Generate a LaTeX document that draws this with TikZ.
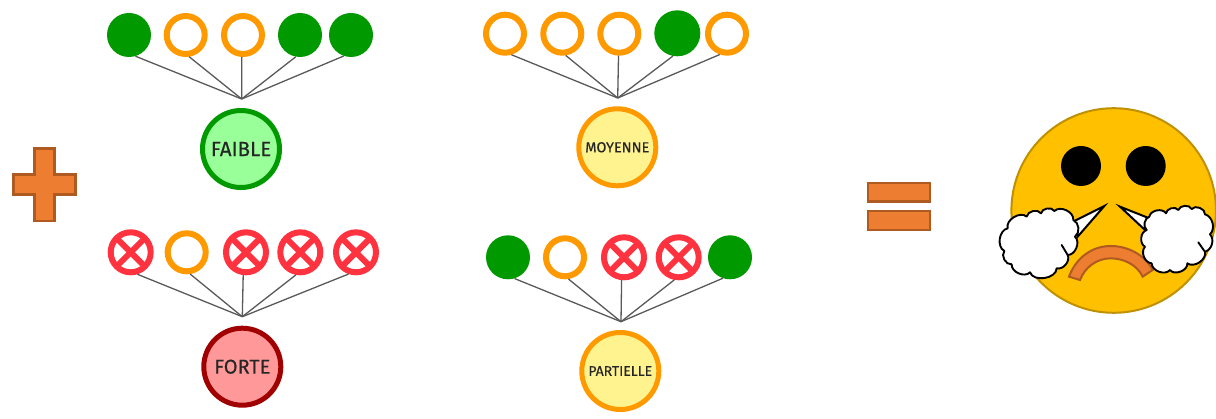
\documentclass[tikz,border=0pt]{standalone}
\usepackage{fontspec}
\setmainfont{Fira Sans}
\newfontfamily\labfont[FakeBold=0.35]{Fira Sans}
\definecolor{okgreen}{HTML}{009900}
\definecolor{midorange}{HTML}{FF9900}
\definecolor{badred}{HTML}{FF3340}
\definecolor{darkred}{HTML}{A00000}
\definecolor{lgreen}{HTML}{99FF99}
\definecolor{lred}{HTML}{FF9999}
\definecolor{lyellow}{HTML}{FFF38F}
\definecolor{signfill}{HTML}{ED7D31}
\definecolor{signline}{HTML}{AE5A21}
\definecolor{facefill}{HTML}{FFC000}
\definecolor{faceline}{HTML}{BF9000}
\tikzset{
  full/.style={circle,inner sep=0pt,fill=okgreen,minimum size=44pt},
  ring/.style={circle,inner sep=0pt,draw=midorange,line width=6pt,fill=white,minimum size=38pt},
  cross/.style={circle,inner sep=0pt,draw=badred,line width=6pt,fill=white,minimum size=40pt,
    path picture={\draw[badred,line width=6pt]
      (path picture bounding box.north west)--(path picture bounding box.south east)
      (path picture bounding box.north east)--(path picture bounding box.south west);}},
  big/.style={circle,inner sep=0pt,line width=5pt,minimum size=77pt,text=black!85,font=\labfont},
  conn/.style={draw=black!65,line width=1.3pt},
  sign/.style={fill=signfill,draw=signline,line width=2.4pt},
  puff/.style={fill=white,draw=black,line width=1.9pt,line join=round,line cap=round},
}
\begin{document}
\begin{tikzpicture}[x=1pt,y=-1pt]
\useasboundingbox (0,0) rectangle (1216,419);
% FAIBLE
\node[full]  (a1) at (129,35) {};
\node[ring]  (a2) at (185.7,35) {};
\node[ring]  (a3) at (243,35) {};
\node[full]  (a4) at (300,35) {};
\node[full]  (a5) at (351,35) {};
\coordinate (ja) at (241.7,99);
\node[big,draw=okgreen,fill=lgreen] (A) at (241,149) {\fontsize{20.5}{22}\selectfont FAIBLE};
% FORTE
\node[cross] (b1) at (130.7,252.3) {};
\node[ring]  (b2) at (186.7,252.3) {};
\node[cross] (b3) at (246,252.3) {};
\node[cross] (b4) at (300.3,252.3) {};
\node[cross] (b5) at (356,252.3) {};
\coordinate (jb) at (242.3,316.7);
\node[big,draw=darkred,fill=lred] (B) at (242.3,366.7) {\fontsize{20}{22}\selectfont FORTE};
% MOYENNE
\node[ring]  (c1) at (505,33.7) {};
\node[ring]  (c2) at (562.3,33.7) {};
\node[ring]  (c3) at (619.3,33.7) {};
\node[full,minimum size=46pt] (c4) at (677.3,33.3) {};
\node[ring]  (c5) at (727,33.7) {};
\coordinate (jc) at (617.7,98);
\node[big,draw=midorange,fill=lyellow] (C) at (617.3,147.3) {\fontsize{14.5}{16}\selectfont MOYENNE};
% PARTIELLE
\node[full]  (d1) at (508,257.3) {};
\node[ring]  (d2) at (565,257.3) {};
\node[cross] (d3) at (624,257.3) {};
\node[cross] (d4) at (678.7,257.3) {};
\node[full]  (d5) at (730,257.3) {};
\coordinate (jd) at (621,321.7);
\node[big,draw=midorange,fill=lyellow] (D) at (620.3,371) {\fontsize{14}{16}\selectfont PARTIELLE};
\foreach \s/\m in {a/-93,b/-97,c/-92,d/-96}
  \foreach \i/\ang in {1/-73,2/-81,3/\m,4/-101,5/-109}
    \draw[conn] (\s\i.\ang) -- (j\s);
% plus
\draw[sign] (34.5,148.5) -- (54.5,148.5) -- (54.5,174.5) -- (75.5,174.5) -- (75.5,194.5)
  -- (54.5,194.5) -- (54.5,221) -- (34.5,221) -- (34.5,194.5) -- (13.5,194.5) -- (13.5,174.5) -- (34.5,174.5) -- cycle;
% equals
\draw[sign] (867.9,182.9) rectangle (929.8,201.5);
\draw[sign] (867.9,211.2) rectangle (929.8,230.1);
% face
\draw[fill=facefill,draw=faceline,line width=2pt] (1113.7,210.5) circle (102.3);
\fill[black] (1081,166) circle (20);
\fill[black] (1145.7,166) circle (20);
\begin{scope}[shift={(990,95)},scale=1/3]
\draw[fill=signfill,draw=signline,line width=2pt,line join=miter]
  (237,545) .. controls (256.5,491) and (304,453) .. (362,453)
  .. controls (413.5,453) and (464.4,479.3) .. (488,525) -- (458,545)
  .. controls (441.4,509.6) and (401,490) .. (362,490)
  .. controls (321,490) and (284.6,516.5) .. (270,555) -- cycle;
\end{scope}
% left puff
\begin{scope}[shift={(995,195)},scale=1/3]
\draw[puff,line width=2pt,line join=miter] (328,33) -- (238,78) -- (248,125) -- cycle;
\draw[puff] (38,100) to[bend left=75] (95,65) to[bend left=70] (138,55) to[bend left=70] (178,48)
  to[bend left=70] (235,75) to[bend left=60] (240,125) to[bend left=70] (218,180)
  to[bend left=65] (185,220) to[bend left=80] (105,232) to[bend left=70] (50,208)
  to[bend left=70] (28,168) to[bend left=70] cycle;
\draw[puff] (200,150) -- (218,180);
\end{scope}
% right puff
\begin{scope}[shift={(1110,195)},scale=1/3]
\draw[puff,line width=2pt,line join=miter] (30,35) -- (118,70) -- (105,105) -- cycle;
\draw[puff] (118,65) to[bend left=70] (168,55) to[bend left=70] (205,45) to[bend left=70] (245,42)
  to[bend left=75] (285,58) to[bend left=60] (300,118) to[bend left=60] (285,170)
  to[bend left=70] (232,205) to[bend left=75] (180,225) to[bend left=70] (125,205)
  to[bend left=65] (105,155) to[bend left=70] (110,105) to[bend left=60] cycle;
\draw[puff] (265,142) -- (283,168);
\end{scope}
\end{tikzpicture}
\end{document}
